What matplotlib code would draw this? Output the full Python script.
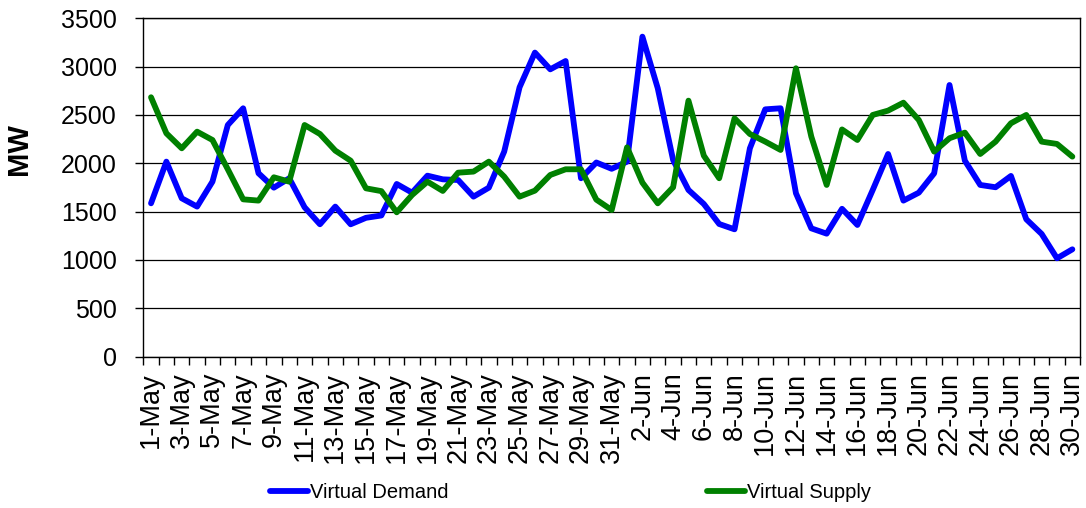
import numpy as np
import matplotlib.pyplot as plt

plt.rcParams['font.family'] = ['Liberation Sans', 'DejaVu Sans']

# daily labels, 1-May .. 30-Jun
days = [f"{d}-May" for d in range(1, 32)] + [f"{d}-Jun" for d in range(1, 31)]

virtual_demand = [
    1586, 2017, 1638, 1552, 1810, 2396, 2569, 1897, 1748, 1845,
    1545, 1369, 1552, 1369, 1436, 1460, 1786, 1696, 1872, 1834,
    1827, 1655, 1748, 2121, 2786, 3145, 2972, 3058, 1845, 2008,
    1943, 2017, 3310, 2776, 2034, 1724, 1579, 1372, 1317, 2155,
    2558, 2569, 1690, 1327, 1272, 1529, 1362, 1724, 2096, 1614,
    1696, 1896, 2810, 2027, 1776, 1752, 1869, 1421, 1269, 1017,
    1110,
]
virtual_supply = [
    2683, 2310, 2155, 2327, 2241, 1938, 1627, 1614, 1855, 1810,
    2396, 2303, 2131, 2027, 1741, 1712, 1493, 1672, 1810, 1714,
    1903, 1914, 2017, 1862, 1655, 1717, 1879, 1938, 1938, 1624,
    1517, 2165, 1800, 1586, 1752, 2648, 2079, 1845, 2465, 2303,
    2224, 2138, 2983, 2276, 1776, 2350, 2241, 2500, 2545, 2627,
    2448, 2121, 2259, 2317, 2096, 2224, 2414, 2500, 2224, 2200,
    2069,
]

fig = plt.figure(figsize=(10.86, 5.08), dpi=100)
ax = fig.add_axes([0.132, 0.298, 0.8625, 0.666])

x = np.arange(len(days))
ax.plot(x, virtual_demand, color='#0000ff', lw=4.2, label='Virtual Demand',
        solid_joinstyle='round', solid_capstyle='round', zorder=3)
ax.plot(x, virtual_supply, color='#008000', lw=4.2, label='Virtual Supply',
        solid_joinstyle='round', solid_capstyle='round', zorder=3)

ax.set_xlim(-0.5, len(days) - 0.5)
ax.set_ylim(0, 3500)
ax.set_yticks(np.arange(0, 3501, 500))
ax.yaxis.grid(True, color='black', lw=0.9)
ax.set_axisbelow(True)

# tick marks on category boundaries, labels on every other day
ax.set_xticks(np.arange(len(days) + 1) - 0.5)
ax.set_xticklabels([])
ax.set_xticks(x[::2], labels=days[::2], minor=True, rotation=90)
ax.tick_params(axis='x', which='major', length=6, width=1, direction='out')
ax.tick_params(axis='x', which='minor', length=0, pad=11, labelsize=19.5)
ax.tick_params(axis='y', length=6, width=1, pad=13, labelsize=18)

for s in ax.spines.values():
    s.set_color('black')
    s.set_linewidth(1)

fig.text(19 / 1086, 1 - 149 / 508, 'MW', rotation=90, ha='center', va='center',
         fontsize=21, fontweight='bold')

fig.legend(loc='center left', bbox_to_anchor=(270 / 1086, 1 - 493 / 508),
           ncol=2, frameon=False, fontsize=14.5, borderpad=0, borderaxespad=0,
           handlelength=1.9, handletextpad=0.1, columnspacing=12.8)

fig.savefig('out.png', dpi=100)
